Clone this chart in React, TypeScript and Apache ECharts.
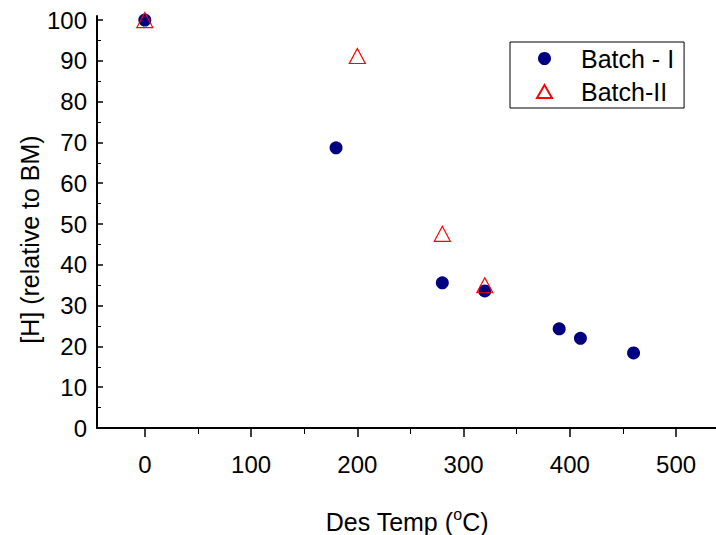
import React, { useEffect, useRef } from "react";
import * as echarts from "echarts";

const batch1: [number, number][] = [
  [0, 100],
  [180, 68.7],
  [280, 35.6],
  [320, 33.6],
  [390, 24.3],
  [410, 22.0],
  [460, 18.4],
];
const batch2: [number, number][] = [
  [0, 100],
  [200, 91.2],
  [280, 47.6],
  [320, 35.0],
];
const xMajor = [0, 100, 200, 300, 400, 500];
const xMinor = [50, 150, 250, 350, 450];
const yMajor = [0, 10, 20, 30, 40, 50, 60, 70, 80, 90, 100];
const yMinor = [5, 15, 25, 35, 45, 55, 65, 75, 85, 95];

const FONT = "'Liberation Sans', Arial, Helvetica, sans-serif";

export default function App() {
  const ref = useRef<HTMLDivElement>(null);
  useEffect(() => {
    if (!ref.current) return;
    const chart = echarts.init(ref.current, undefined, { renderer: "svg" });
    const axisLine = { show: true, lineStyle: { color: "#000", width: 2 } };
    chart.setOption({
      animation: false,
      backgroundColor: "#fff",
      grid: { left: 97, right: 0, top: 16, bottom: 107 },
      xAxis: [
        {
          type: "value",
          min: -45,
          max: 537.6,
          splitLine: { show: false },
          axisLine: { ...axisLine, onZero: false },
          axisTick: { customValues: xMajor, length: 9, lineStyle: { color: "#000", width: 1.5 } },
          axisLabel: { customValues: xMajor, margin: 24, fontSize: 24, color: "#000", fontFamily: FONT },
        },
        {
          type: "value",
          position: "bottom",
          offset: 0,
          min: -45,
          max: 537.6,
          splitLine: { show: false },
          axisLine: { show: false, onZero: false },
          axisTick: { customValues: xMinor, length: 6, lineStyle: { color: "#000", width: 1 } },
          axisLabel: { show: false },
        },
      ],
      yAxis: [
        {
          type: "value",
          min: 0,
          max: 101,
          splitLine: { show: false },
          axisLine: { ...axisLine, onZero: false },
          axisTick: { customValues: yMajor, inside: true, length: 6, lineStyle: { color: "#000", width: 1.5 } },
          axisLabel: { customValues: yMajor, margin: 10, fontSize: 24, color: "#000", fontFamily: FONT },
        },
        {
          type: "value",
          position: "left",
          offset: 0,
          min: 0,
          max: 101,
          splitLine: { show: false },
          axisLine: { show: false, onZero: false },
          axisTick: { customValues: yMinor, inside: true, length: 4, lineStyle: { color: "#000", width: 1 } },
          axisLabel: { show: false },
        },
      ],
      legend: {
        orient: "vertical",
        left: 510,
        top: 42,
        borderColor: "#000",
        borderWidth: 1,
        padding: [4, 10, 4, 26],
        itemWidth: 15,
        itemHeight: 13,
        itemGap: 8,
        textStyle: { fontSize: 25, color: "#000", fontFamily: FONT, lineHeight: 25, padding: [0, 0, 0, 24] },
        data: ["Batch - I", "Batch-II"],
      },
      graphic: [
        {
          type: "text",
          x: 407,
          y: 522,
          style: {
            text: "Des Temp ({sup|o}C)",
            font: `25px ${FONT}`,
            fill: "#000",
            align: "center",
            verticalAlign: "middle",
            rich: {
              sup: { fontSize: 16, fontFamily: FONT, fill: "#000", verticalAlign: "top", padding: [0, 0, 16, 0] },
            },
          },
        },
        {
          type: "text",
          x: 30,
          y: 239.5,
          rotation: Math.PI / 2,
          style: {
            text: "[H] (relative to BM)",
            font: `25px ${FONT}`,
            fill: "#000",
            align: "center",
            verticalAlign: "middle",
          },
        },
      ],
      series: [
        {
          name: "Batch - I",
          type: "scatter",
          xAxisIndex: 0,
          yAxisIndex: 0,
          symbol: "circle",
          symbolSize: 13,
          itemStyle: { color: "#000080", opacity: 1 },
          data: batch1,
        },
        {
          name: "Batch-II",
          type: "scatter",
          xAxisIndex: 0,
          yAxisIndex: 0,
          symbol: "triangle",
          symbolSize: [16, 15],
          itemStyle: { color: "rgba(255,255,255,0)", borderColor: "#ff0000", borderWidth: 1.2, opacity: 1 },
          data: batch2,
        },
      ],
    });
    return () => chart.dispose();
  }, []);
  return <div ref={ref} style={{ width: 716, height: 535, position: "absolute", left: 0, top: 0 }} />;
}
